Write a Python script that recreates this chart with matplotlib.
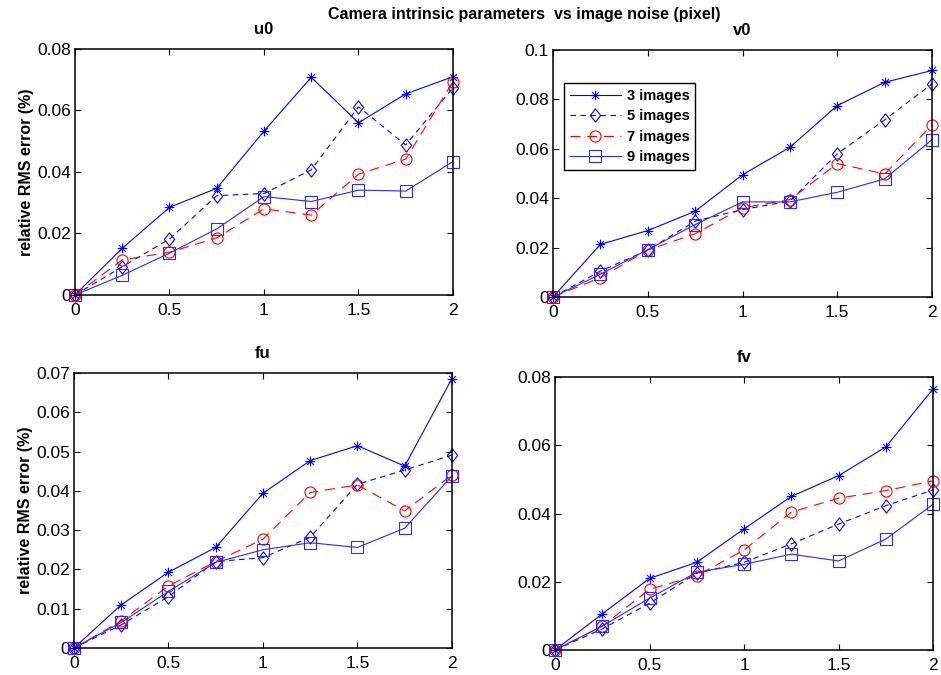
import matplotlib
matplotlib.use("Agg")
import matplotlib.pyplot as plt
from matplotlib.path import Path

plt.rcParams['font.family'] = ['Liberation Sans', 'DejaVu Sans']

# noise level (pixel)
noise = [0, 0.25, 0.5, 0.75, 1.0, 1.25, 1.5, 1.75, 2.0]
labels = ['3 images', '5 images', '7 images', '9 images']

# relative RMS error (%)
u0_3 = [0, 0.0152, 0.0285, 0.0347, 0.0533, 0.0708, 0.0560, 0.0654, 0.0710]
u0_5 = [0, 0.0092, 0.0182, 0.0323, 0.0330, 0.0407, 0.0612, 0.0488, 0.0674]
u0_7 = [0, 0.0114, 0.0139, 0.0186, 0.0280, 0.0260, 0.0393, 0.0442, 0.0694]
u0_9 = [0, 0.0064, 0.0136, 0.0215, 0.0320, 0.0304, 0.0341, 0.0338, 0.0434]

v0_3 = [0, 0.0213, 0.0269, 0.0347, 0.0495, 0.0606, 0.0775, 0.0869, 0.0917]
v0_5 = [0, 0.0105, 0.0190, 0.0307, 0.0354, 0.0388, 0.0580, 0.0717, 0.0863]
v0_7 = [0, 0.0078, 0.0190, 0.0256, 0.0361, 0.0394, 0.0540, 0.0498, 0.0697]
v0_9 = [0, 0.0092, 0.0192, 0.0293, 0.0385, 0.0385, 0.0424, 0.0478, 0.0637]

fu_3 = [0, 0.0110, 0.0193, 0.0256, 0.0394, 0.0477, 0.0515, 0.0463, 0.0686]
fu_5 = [0, 0.0059, 0.0131, 0.0220, 0.0230, 0.0282, 0.0417, 0.0453, 0.0491]
fu_7 = [0, 0.0069, 0.0158, 0.0220, 0.0277, 0.0396, 0.0415, 0.0349, 0.0440]
fu_9 = [0, 0.0065, 0.0144, 0.0218, 0.0250, 0.0268, 0.0256, 0.0305, 0.0438]

fv_3 = [0, 0.0106, 0.0210, 0.0257, 0.0355, 0.0450, 0.0511, 0.0595, 0.0765]
fv_5 = [0, 0.0062, 0.0137, 0.0225, 0.0257, 0.0311, 0.0369, 0.0423, 0.0469]
fv_7 = [0, 0.0070, 0.0178, 0.0218, 0.0293, 0.0404, 0.0445, 0.0467, 0.0496]
fv_9 = [0, 0.0070, 0.0152, 0.0228, 0.0251, 0.0281, 0.0261, 0.0325, 0.0427]

# matlab-like asterisk marker (+ and x overlaid)
d = 0.7071
asterisk = Path([(0, -1), (0, 1), (-1, 0), (1, 0), (-d, -d), (d, d), (-d, d), (d, -d)],
                [Path.MOVETO, Path.LINETO] * 4)
diamond = Path([(0, -1), (0.78, 0), (0, 1), (-0.78, 0), (0, -1)],
               [Path.MOVETO, Path.LINETO, Path.LINETO, Path.LINETO, Path.CLOSEPOLY])

styles = [
    dict(color='blue', linestyle='-', marker=asterisk, markersize=7),
    dict(color='blue', linestyle=(0, (5, 4)), marker=diamond, markersize=9.5),
    dict(color='red', linestyle=(0, (9, 6)), marker='o', markersize=8),
    dict(color='#2a2aff', linestyle='-', marker='s', markersize=8),
]

panels = [
    ('u0', [u0_3, u0_5, u0_7, u0_9], 0.08, [0, 0.02, 0.04, 0.06, 0.08],
     [0.0797, 0.563, 0.4017, 0.3644]),
    ('v0', [v0_3, v0_5, v0_7, v0_9], 0.1, [0, 0.02, 0.04, 0.06, 0.08, 0.1],
     [0.5877, 0.560, 0.4028, 0.366]),
    ('fu', [fu_3, fu_5, fu_7, fu_9], 0.07, [0, 0.01, 0.02, 0.03, 0.04, 0.05, 0.06, 0.07],
     [0.0786, 0.040, 0.4017, 0.4074]),
    ('fv', [fv_3, fv_5, fv_7, fv_9], 0.08, [0, 0.02, 0.04, 0.06, 0.08],
     [0.5898, 0.037, 0.4017, 0.4044]),
]

fig = plt.figure(figsize=(9.41, 6.75), dpi=100)

for i, (name, series, ymax, yticks, pos) in enumerate(panels):
    ax = fig.add_axes(pos)
    for ys, st, lab in zip(series, styles, labels):
        ax.plot(noise, ys, linewidth=0.8, markerfacecolor='none',
                markeredgewidth=0.8, label=lab, clip_on=False, **st)
    ax.set_xlim(0, 2)
    ax.set_ylim(0, ymax)
    ax.set_xticks([0, 0.5, 1, 1.5, 2])
    ax.set_xticklabels(['0', '0.5', '1', '1.5', '2'])
    ax.set_yticks(yticks)
    ax.set_yticklabels(['0'] + ['%g' % t for t in yticks[1:]])
    ax.tick_params(direction='in', top=True, right=True, labelsize=12.5,
                   length=4, width=0.8)
    ax.tick_params(axis='x', pad=6)
    ax.tick_params(axis='y', pad=3)
    for sp in ax.spines.values():
        sp.set_linewidth(1.1)
    ax.set_title(name, fontsize=12, fontweight='bold', pad=11)
    if i % 2 == 0:
        ax.set_ylabel('relative RMS error (%)', fontsize=11.5, fontweight='bold',
                      labelpad=2)
    if name == 'v0':
        leg = ax.legend(loc='upper left', bbox_to_anchor=(0.029, 0.866),
                        borderaxespad=0, fancybox=False, framealpha=1,
                        edgecolor='black', prop=dict(size=10.5, weight='bold'),
                        handlelength=3.5, handletextpad=0.4, labelspacing=0.44)
        leg.get_frame().set_linewidth(1.0)

fig.text(0.557, 0.978, 'Camera intrinsic parameters  vs image noise (pixel)',
         ha='center', va='center', fontsize=11.5, fontweight='bold')

fig.savefig('out.png', dpi=100)
